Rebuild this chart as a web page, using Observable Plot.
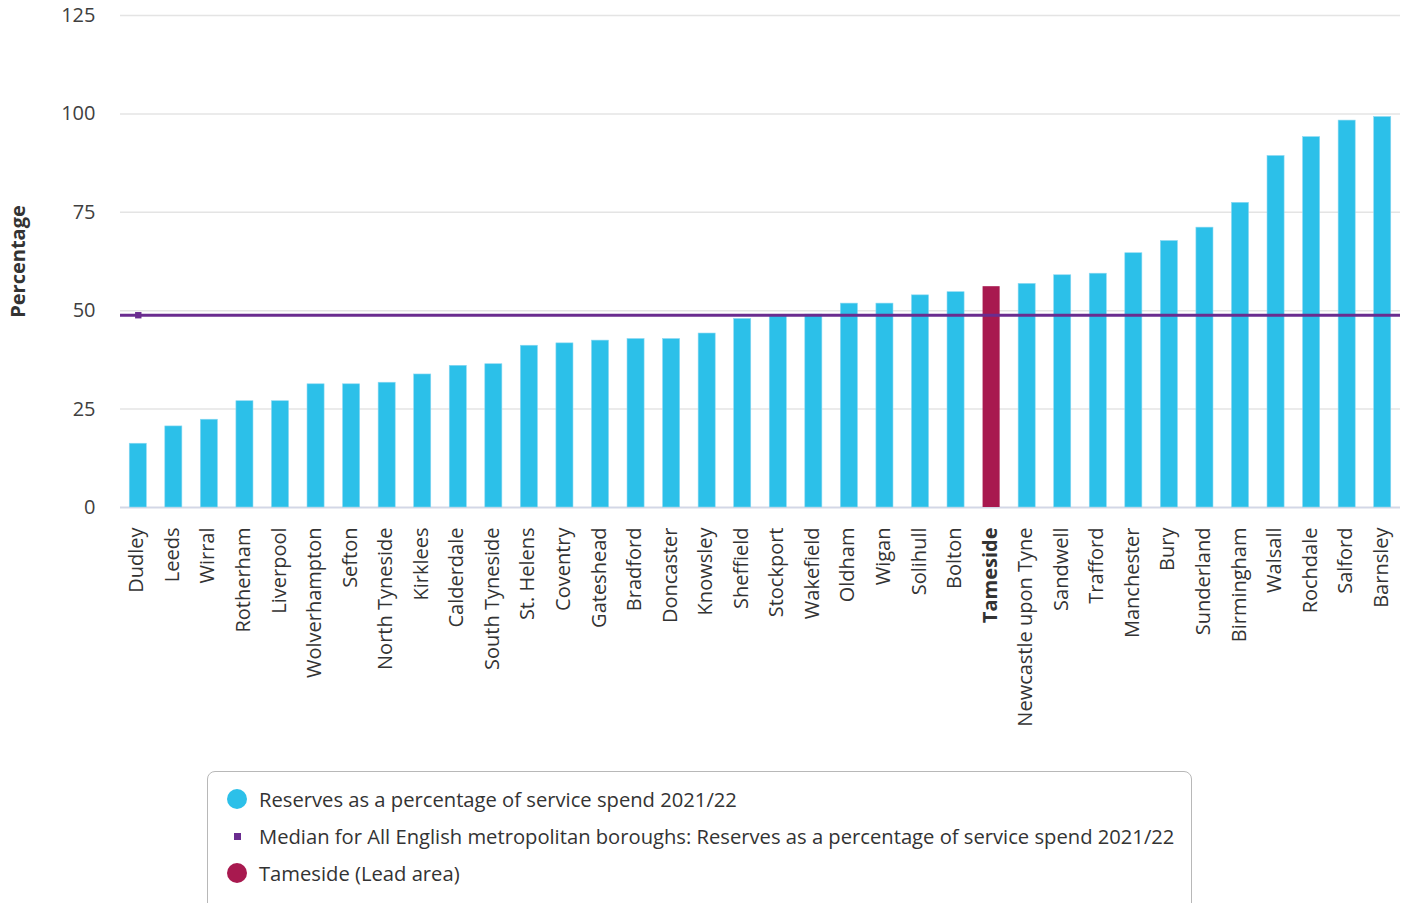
<!DOCTYPE html>
<html>
<head>
<meta charset="utf-8">
<script src="https://cdn.jsdelivr.net/npm/d3@7"></script>
<script src="https://cdn.jsdelivr.net/npm/@observablehq/plot@0.6"></script>
<style>
  html, body { margin: 0; padding: 0; background: #fff; font-family: "Open Sans", sans-serif; }
  #wrap { position: relative; width: 1407px; height: 903px; overflow: hidden; }
  #legend {
    position: absolute; left: 207px; top: 771px; width: 985px; height: 160px;
    border: 1.5px solid #b8b8b8; border-radius: 8px; box-sizing: border-box;
    font-size: 20.2px; color: #333;
  }
  .item { position: absolute; left: 51px; white-space: nowrap; line-height: 26px; }
  .sw { position: absolute; }
</style>
</head>
<body>
<div id="wrap">
  <div id="chart"></div>
  <div id="legend"></div>
</div>
<script>
const categories = ["Dudley","Leeds","Wirral","Rotherham","Liverpool","Wolverhampton","Sefton","North Tyneside","Kirklees","Calderdale","South Tyneside","St. Helens","Coventry","Gateshead","Bradford","Doncaster","Knowsley","Sheffield","Stockport","Wakefield","Oldham","Wigan","Solihull","Bolton","Tameside","Newcastle upon Tyne","Sandwell","Trafford","Manchester","Bury","Sunderland","Birmingham","Walsall","Rochdale","Salford","Barnsley"];
const reservesPct = [16.2,20.6,22.3,27.0,27.0,31.3,31.3,31.7,33.8,36.0,36.4,41.1,41.7,42.4,42.8,42.8,44.2,47.9,48.9,49.0,51.8,51.8,53.9,54.7,56.1,56.8,59.0,59.4,64.6,67.7,71.1,77.4,89.3,94.1,98.3,99.2];
const medianPct = 48.85;
const leadArea = "Tameside";
const yTicks = [0,25,50,75,100,125];
const seriesNames = [
  "Reserves as a percentage of service spend 2021/22",
  "Median for All English metropolitan boroughs: Reserves as a percentage of service spend 2021/22",
  "Tameside (Lead area)"
];

const colBar = "#2cc0e9", colLead = "#a8194f", colMedian = "#6a2c8f";

const data = categories.map((c, i) => ({name: c, value: reservesPct[i], lead: c === leadArea}));
const inset = 9.25;

const chart = Plot.plot({
  width: 1407,
  height: 760,
  marginLeft: 120,
  marginRight: 7,
  marginTop: 15,
  marginBottom: 253,
  style: {fontFamily: "Open Sans", fontSize: "20px", color: "#404040", background: "white"},
  x: {domain: categories, padding: 0, round: false, axis: null},
  y: {domain: [0, 125], ticks: yTicks, tickSize: 0, tickPadding: 25, label: null},
  marks: [
    Plot.gridY(yTicks.filter(t => t > 0), {stroke: "#e4e4e4", strokeOpacity: 1, strokeWidth: 1.5}),
    Plot.axisY(yTicks, {tickSize: 0, tickPadding: 25, label: null, fill: "#404040", fontSize: 20}),
    Plot.ruleY([0], {stroke: "#d3d7e6", strokeWidth: 2}),
    Plot.barY(data.filter(d => !d.lead), {x: "name", y: "value", fill: colBar, stroke: "#8ad8f2", strokeWidth: 0.6, insetLeft: inset, insetRight: inset}),
    Plot.barY(data.filter(d => d.lead), {x: "name", y: "value", fill: colLead, insetLeft: inset, insetRight: inset}),
    Plot.ruleY([medianPct], {stroke: colMedian, strokeWidth: 3}),
    Plot.dot([categories[0]], {x: d => d, y: () => medianPct, symbol: "square", r: 3.6, fill: colMedian}),
    Plot.text(categories.filter(c => c !== leadArea), {x: d => d, frameAnchor: "bottom", dx: 5, dy: 20, rotate: -90, textAnchor: "end", fill: "#333", fontSize: 20}),
    Plot.text([leadArea], {x: d => d, frameAnchor: "bottom", dx: 5, dy: 20, rotate: -90, textAnchor: "end", fill: "#333", fontSize: 20, fontWeight: "bold"}),
    Plot.text(["Percentage"], {frameAnchor: "left", dx: -102, rotate: -90, textAnchor: "middle", fontWeight: "bold", fontSize: 20, fill: "#333"})
  ]
});
document.getElementById("chart").appendChild(chart);

const legend = document.getElementById("legend");
const rows = [
  {label: seriesNames[0], type: "circle", color: colBar},
  {label: seriesNames[1], type: "square", color: colMedian},
  {label: seriesNames[2], type: "circle", color: colLead}
];
rows.forEach((r, i) => {
  const cy = 27 + i * 37;
  const sw = document.createElement("div");
  sw.className = "sw";
  if (r.type === "circle") {
    Object.assign(sw.style, {left: "19px", top: (cy - 10) + "px", width: "20px", height: "20px", borderRadius: "50%", background: r.color});
  } else {
    Object.assign(sw.style, {left: "26px", top: (cy - 3.5) + "px", width: "7px", height: "7px", background: r.color});
  }
  legend.appendChild(sw);
  const t = document.createElement("div");
  t.className = "item";
  t.style.top = (cy - 13) + "px";
  t.textContent = r.label;
  legend.appendChild(t);
});
</script>
</body>
</html>
